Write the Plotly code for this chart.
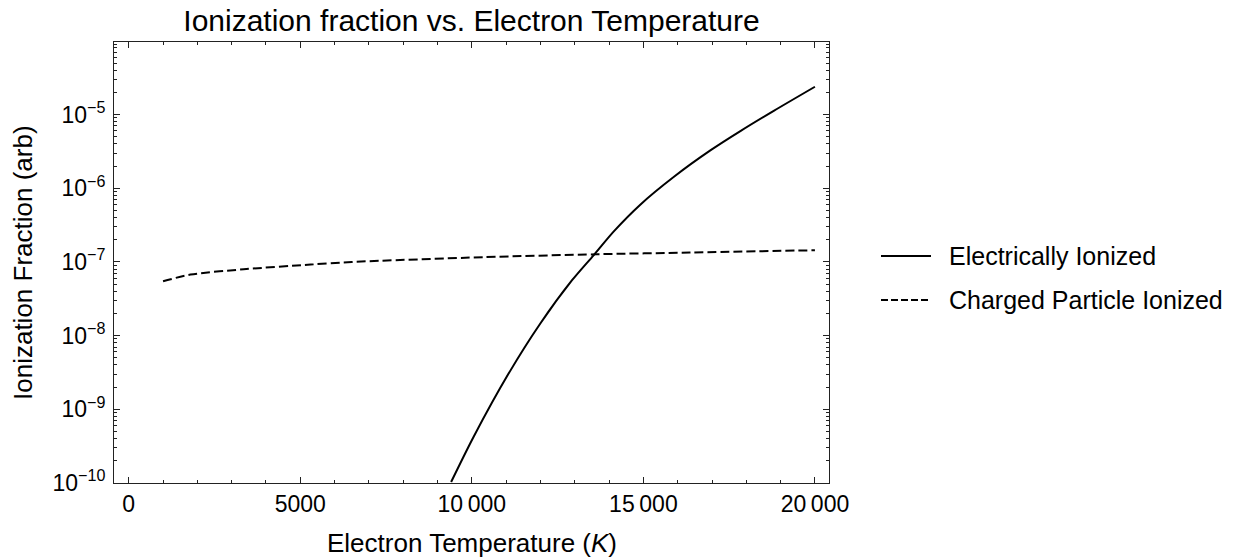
import plotly.graph_objects as go

# ---- data ----
elec_T = [9396, 10049, 11071, 11996, 12921, 13554, 14138, 14917, 15891,
          16962, 17838, 18812, 20000]
elec_frac = [1.03e-10, 4.21e-10, 3.05e-9, 1.46e-8, 5.64e-8, 1.24e-7, 2.60e-7,
             6.03e-7, 1.43e-6, 3.28e-6, 6.00e-6, 1.13e-5, 2.38e-5]
cp_T = [1000, 1800, 3350, 5300, 6500, 10350, 13650, 16350, 20000]
cp_frac = [5.46e-8, 6.73e-8, 7.94e-8, 9.20e-8, 9.98e-8, 1.16e-7, 1.27e-7, 1.34e-7, 1.44e-7]

series_names = ["Electrically Ionized", "Charged Particle Ionized"]

x_tick_vals = [0, 5000, 10000, 15000, 20000]
x_tick_text = ["0", "5000", "10\u2009000", "15\u2009000", "20\u2009000"]
y_tick_vals = [1e-10, 1e-9, 1e-8, 1e-7, 1e-6, 1e-5]
y_tick_text = ["10<sup>\u221210</sup>", "10<sup>\u22129</sup>", "10<sup>\u22128</sup>",
               "10<sup>\u22127</sup>", "10<sup>\u22126</sup>", "10<sup>\u22125</sup>"]

title_text = "Ionization fraction vs. Electron Temperature"
x_title = "Electron Temperature (<i>K</i>)"
y_title = "Ionization Fraction (arb)"

# ---- styling / layout ----
W, H = 1258, 558
L, R, T, B = 114, 429, 42, 75
PW, PH = W - L - R, H - T - B
FONT = "Liberation Sans, Arial, sans-serif"
FRAME = "#222222"


def px_x(px):
    return (px - L) / PW


def px_y(py):
    return (H - B - py) / PH


x_minor = [v for v in range(0, 20001, 1000) if v % 5000 != 0]
y_minor = [m * 10.0 ** e for e in range(-10, -4) for m in range(2, 10)]

fig = go.Figure()
fig.add_trace(go.Scatter(x=elec_T, y=elec_frac, mode="lines", name=series_names[0],
                         line=dict(color="black", width=2, shape="spline", smoothing=0.8),
                         showlegend=False))
fig.add_trace(go.Scatter(x=cp_T, y=cp_frac, mode="lines", name=series_names[1],
                         line=dict(color="black", width=2, dash="9px,4px", shape="spline", smoothing=0.8),
                         showlegend=False))

axis_common = dict(showline=True, linecolor=FRAME, linewidth=1, mirror="allticks",
                   ticks="inside", tickcolor=FRAME, tickwidth=1, showgrid=False,
                   zeroline=False, tickfont=dict(family=FONT, size=23, color="black"))

fig.update_xaxes(range=[-430, 20410], tickmode="array", tickvals=x_tick_vals,
                 ticktext=x_tick_text, ticklen=6,
                 minor=dict(ticks="inside", ticklen=3, tickcolor=FRAME, tickvals=x_minor,
                            showgrid=False),
                 **axis_common)
fig.update_yaxes(type="log", range=[-10, -4.016], tickmode="array", tickvals=y_tick_vals,
                 ticktext=y_tick_text, ticklen=6, ticklabelstandoff=3,
                 minor=dict(ticks="inside", ticklen=3, tickcolor=FRAME, tickvals=y_minor,
                            showgrid=False),
                 **axis_common)

annotations = [
    dict(text=x_title, x=0.5, y=px_y(543), xref="paper", yref="paper", showarrow=False,
         xanchor="center", yanchor="middle", font=dict(family=FONT, size=26, color="black")),
    dict(text=y_title, x=px_x(22.5), y=0.5, xref="paper", yref="paper", showarrow=False,
         textangle=-90, xanchor="center", yanchor="middle",
         font=dict(family=FONT, size=26, color="black")),
]
shapes = []
legend_rows = [(256, "solid"), (300, "7px,3px")]
for (ly, dash), name in zip(legend_rows, series_names):
    shapes.append(dict(type="line", xref="paper", yref="paper", x0=px_x(881), x1=px_x(931),
                       y0=px_y(ly), y1=px_y(ly), line=dict(color="black", width=2, dash=dash)))
    annotations.append(dict(text=name, x=px_x(947), y=px_y(ly), xref="paper", yref="paper",
                            showarrow=False, xanchor="left", yanchor="middle",
                            font=dict(family=FONT, size=25, color="black")))

fig.update_layout(
    width=W, height=H,
    margin=dict(l=L, r=R, t=T, b=B, autoexpand=False),
    paper_bgcolor="white", plot_bgcolor="white",
    title=dict(text=title_text, x=0.5, xref="paper", y=1 - 20 / H, yref="container",
               xanchor="center", yanchor="middle",
               font=dict(family=FONT, size=30, color="black")),
    annotations=annotations, shapes=shapes, showlegend=False,
)

fig.write_html("out.html")
